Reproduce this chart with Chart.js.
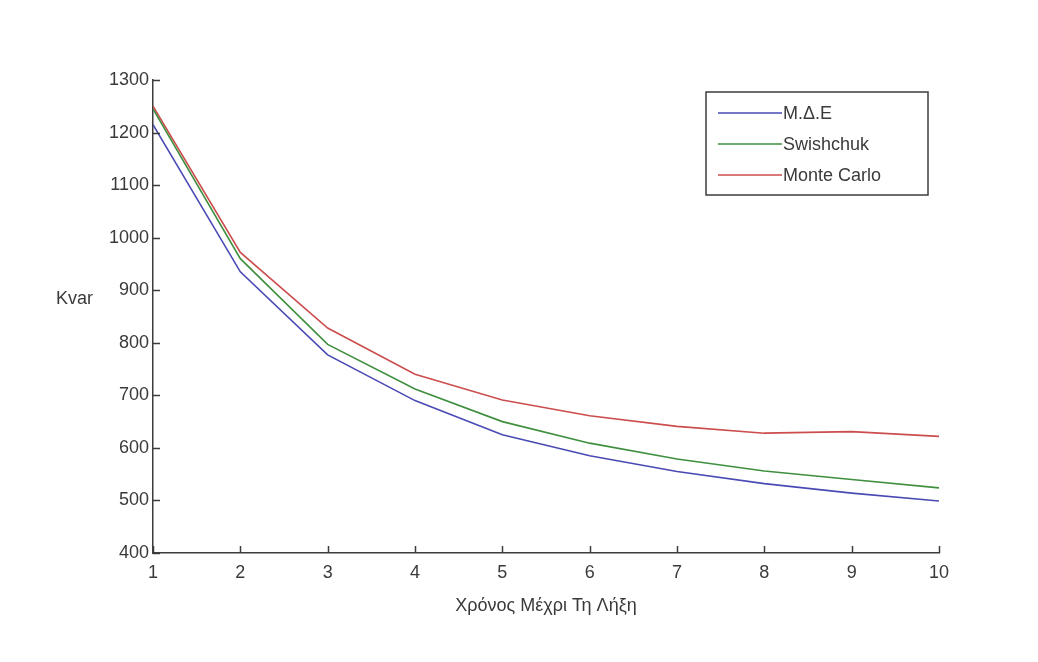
<!DOCTYPE html>
<html>
<head>
<meta charset="utf-8">
<script src="https://cdn.jsdelivr.net/npm/chart.js@4.4.1/dist/chart.umd.min.js"></script>
<style>
    html, body { margin: 0; padding: 0; background: #fff; }
    #wrap { width: 1038px; height: 662px; position: relative; }
</style>
</head>
<body>
<div id="wrap"><canvas id="myChart" width="1038" height="662"></canvas></div>
<script>
const years = [1, 2, 3, 4, 5, 6, 7, 8, 9, 10];
const pdeValues = [1215, 935, 777, 690, 625, 585, 555, 532, 514, 499];
const swishchukValues = [1245, 960, 797, 712, 650, 609, 579, 556, 540, 524];
const monteCarloValues = [1250, 972, 828, 740, 691, 661, 641, 628, 631, 622];
const yTicks = [400, 500, 600, 700, 800, 900, 1000, 1100, 1200, 1300];

const seriesNames = ['Μ.Δ.Ε', 'Swishchuk', 'Monte Carlo'];
const seriesColors = ['#4a4ab4', '#3f8f3f', '#cc4d4d'];

const FONT = '"Liberation Sans", Arial, sans-serif';
const FONT_SIZE = 18;
const AXIS_COLOR = '#3c3c3c';
const TEXT_COLOR = '#3a3a3a';

function toPoints(values) {
    return years.map((x, i) => ({ x: x, y: values[i] }));
}

// inward tick marks (pointing into the axes box) and the horizontal "Kvar" label
const innerTicks = {
    id: 'innerTicks',
    afterDraw(chart) {
        const ctx = chart.ctx;
        const xs = chart.scales.x;
        const ys = chart.scales.y;
        const left = chart.chartArea.left;
        const bottom = chart.chartArea.bottom;
        ctx.save();
        ctx.strokeStyle = AXIS_COLOR;
        ctx.lineWidth = 1.5;
        ctx.beginPath();
        yTicks.forEach(v => {
            const py = Math.round(ys.getPixelForValue(v)) + 0.5;
            ctx.moveTo(left, py);
            ctx.lineTo(left + 7, py);
        });
        years.forEach(v => {
            const px = Math.round(xs.getPixelForValue(v)) + 0.5;
            ctx.moveTo(px, bottom);
            ctx.lineTo(px, bottom - 7);
        });
        ctx.stroke();

        ctx.fillStyle = TEXT_COLOR;
        ctx.font = FONT_SIZE + 'px ' + FONT;
        ctx.textAlign = 'right';
        ctx.textBaseline = 'middle';
        ctx.fillText('Kvar', 93, ys.getPixelForValue(883));
        ctx.restore();
    }
};

// framed legend in the upper right corner
const boxLegend = {
    id: 'boxLegend',
    afterDraw(chart) {
        const ctx = chart.ctx;
        const boxLeft = 706, boxTop = 92, boxRight = 928, boxBottom = 195;
        ctx.save();
        ctx.fillStyle = '#fff';
        ctx.fillRect(boxLeft, boxTop, boxRight - boxLeft, boxBottom - boxTop);
        ctx.strokeStyle = AXIS_COLOR;
        ctx.lineWidth = 1.5;
        ctx.strokeRect(boxLeft, boxTop, boxRight - boxLeft, boxBottom - boxTop);
        ctx.font = FONT_SIZE + 'px ' + FONT;
        ctx.textAlign = 'left';
        ctx.textBaseline = 'middle';
        chart.data.datasets.forEach((ds, i) => {
            const y = 113 + i * 31;
            ctx.strokeStyle = ds.borderColor;
            ctx.lineWidth = 1.5;
            ctx.beginPath();
            ctx.moveTo(718, y);
            ctx.lineTo(782, y);
            ctx.stroke();
            ctx.fillStyle = TEXT_COLOR;
            ctx.fillText(ds.label, 783, y + 1);
        });
        ctx.restore();
    }
};

const ctx = document.getElementById('myChart').getContext('2d');
const chartInstance = new Chart(ctx, {
    type: 'line',
    data: {
        datasets: [pdeValues, swishchukValues, monteCarloValues].map((vals, i) => ({
            label: seriesNames[i],
            data: toPoints(vals),
            borderColor: seriesColors[i],
            borderWidth: 1.6,
            pointRadius: 0,
            tension: 0,
            fill: false
        }))
    },
    options: {
        responsive: false,
        animation: false,
        layout: { padding: { left: 0, top: 80, right: 99, bottom: 45 } },
        plugins: {
            legend: { display: false },
            tooltip: { enabled: false }
        },
        scales: {
            x: {
                type: 'linear',
                min: 1,
                max: 10,
                afterFit(scale) { scale.height = 64; },
                afterBuildTicks(scale) { scale.ticks = years.map(v => ({ value: v })); },
                grid: { drawOnChartArea: false, drawTicks: false },
                border: { display: true, color: AXIS_COLOR, width: 1.5 },
                ticks: {
                    color: TEXT_COLOR,
                    padding: 9,
                    callback: v => String(v),
                    font: { family: FONT, size: FONT_SIZE }
                },
                title: {
                    display: true,
                    text: 'Χρόνος Μέχρι Τη Λήξη',
                    color: TEXT_COLOR,
                    padding: { top: 6, bottom: 0 },
                    font: { family: FONT, size: FONT_SIZE }
                }
            },
            y: {
                type: 'linear',
                min: 400,
                max: 1300,
                afterFit(scale) { scale.width = 153; },
                afterBuildTicks(scale) { scale.ticks = yTicks.map(v => ({ value: v })); },
                grid: { drawOnChartArea: false, drawTicks: false },
                border: { display: true, color: AXIS_COLOR, width: 1.5 },
                ticks: {
                    color: TEXT_COLOR,
                    padding: 4,
                    callback: v => String(v),
                    font: { family: FONT, size: FONT_SIZE }
                }
            }
        }
    },
    plugins: [innerTicks, boxLegend]
});
</script>
</body>
</html>
